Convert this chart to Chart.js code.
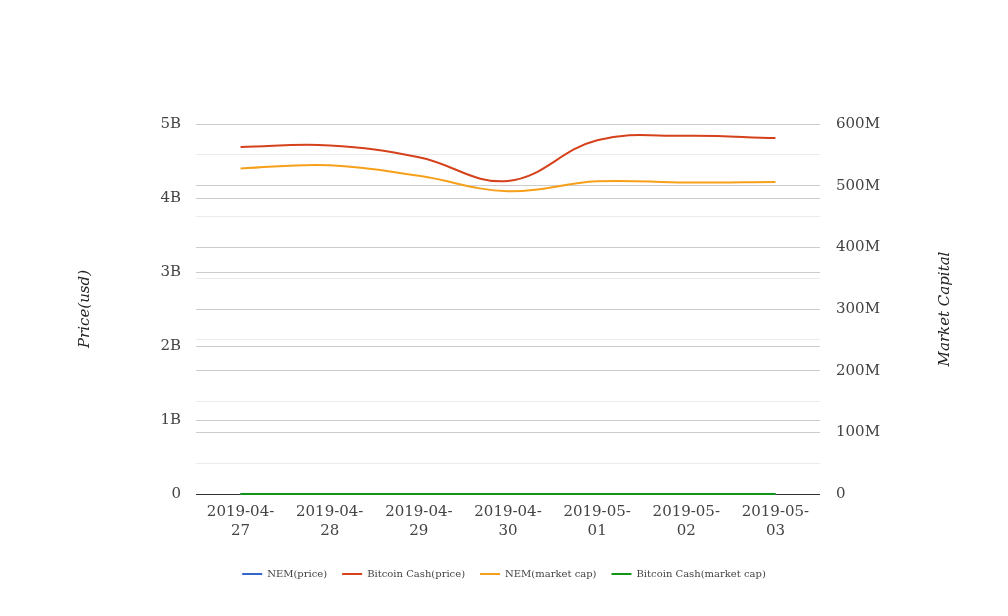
<!DOCTYPE html>
<html>
<head>
<meta charset="utf-8">
<script src="https://cdn.jsdelivr.net/npm/chart.js@4.4.1/dist/chart.umd.min.js"></script>
<style>
  html, body { margin: 0; padding: 0; background: #fff; }
  #wrap { width: 1008px; height: 616px; position: relative; }
</style>
</head>
<body>
<div id="wrap"><canvas id="c"></canvas></div>
<script>
// categories
const dates = [['2019-04-', '27'], ['2019-04-', '28'], ['2019-04-', '29'], ['2019-04-', '30'],
               ['2019-05-', '01'], ['2019-05-', '02'], ['2019-05-', '03']];
// series
const nemPrice = [0.068, 0.069, 0.067, 0.063, 0.065, 0.065, 0.065];
const bchPrice = [4.69e9, 4.71e9, 4.55e9, 4.23e9, 4.78e9, 4.84e9, 4.81e9];
const nemCap   = [528e6, 533e6, 516e6, 491e6, 507e6, 505e6, 506e6];
const bchCap   = [281, 283, 273, 254, 287, 291, 289];
// tick labels
const leftTicks  = {0: '0', 1e9: '1B', 2e9: '2B', 3e9: '3B', 4e9: '4B', 5e9: '5B'};
const rightTicks = {0: '0', 1e8: '100M', 2e8: '200M', 3e8: '300M', 4e8: '400M', 5e8: '500M', 6e8: '600M'};

const FONT = "'DejaVu Serif', serif";

// later series drawn on top, like the original
const mkDs = (label, data, color, axis, order) => ({
  label, data, yAxisID: axis, order,
  borderColor: color, backgroundColor: color,
  borderWidth: 2, pointRadius: 0, pointHoverRadius: 0,
  fill: false, tension: 0.4, clip: 4
});

// right axis title reads bottom-to-top, so draw it ourselves
const rightTitle = {
  id: 'rightTitle',
  afterDraw(chart) {
    const ctx = chart.ctx, a = chart.chartArea;
    ctx.save();
    ctx.translate(945, (a.top + a.bottom) / 2);
    ctx.rotate(-Math.PI / 2);
    ctx.font = 'italic 15px ' + FONT;
    ctx.fillStyle = '#222';
    ctx.textAlign = 'center';
    ctx.textBaseline = 'middle';
    ctx.fillText('Market Capital', 0, 0);
    ctx.restore();
  }
};

new Chart(document.getElementById('c'), {
  type: 'line',
  data: {
    labels: dates,
    datasets: [
      mkDs('NEM(price)', nemPrice, '#3366cc', 'yL', 4),
      mkDs('Bitcoin Cash(price)', bchPrice, '#d5411b', 'yL', 3),
      mkDs('NEM(market cap)', nemCap, '#f6a01a', 'yR', 2),
      mkDs('Bitcoin Cash(market cap)', bchCap, '#109618', 'yR', 1)
    ]
  },
  options: {
    responsive: true, maintainAspectRatio: false, animation: false,
    layout: {padding: {top: 124, bottom: 27, left: 0, right: 0}},
    plugins: {
      tooltip: {enabled: false},
      legend: {
        position: 'bottom',
        labels: {
          font: {family: FONT, size: 10}, color: '#444',
          boxWidth: 20, boxHeight: 2, padding: 15,
          generateLabels(chart) {
            return chart.data.datasets.map((ds, i) => ({
              text: ds.label, fillStyle: ds.borderColor, strokeStyle: ds.borderColor,
              lineWidth: 0, hidden: false, datasetIndex: i, fontColor: '#444'
            }));
          }
        }
      }
    },
    scales: {
      x: {
        offset: true,
        afterFit(s) { s.height += 13; },
        grid: {display: false},
        border: {display: false},
        ticks: {font: {family: FONT, size: 15, lineHeight: 1.3}, color: '#444', padding: 0, maxRotation: 0, autoSkip: false}
      },
      yL: {
        position: 'left', min: 0, max: 5e9,
        afterFit(s) { s.width = 196; },
        border: {display: false},
        grid: {drawTicks: false, color: c => c.tick && c.tick.value === 0 ? '#333' : '#cccccc', lineWidth: 1},
        ticks: {stepSize: 1e9, font: {family: FONT, size: 15}, color: '#444', padding: 15,
                callback: v => leftTicks[v] ?? ''},
        title: {display: true, text: 'Price(usd)', color: '#222',
                font: {family: FONT, size: 15, style: 'italic'}, padding: {top: 76, bottom: 0}}
      },
      yR: {
        position: 'right', min: 0, max: 6e8,
        afterFit(s) { s.width = 188; },
        border: {display: false},
        grid: {drawTicks: false,
               color: c => {
                 const v = c.tick ? c.tick.value : 0;
                 if (v === 0) return 'rgba(0,0,0,0)';
                 return v % 1e8 === 0 ? '#cccccc' : '#ebebeb';
               }},
        ticks: {stepSize: 5e7, font: {family: FONT, size: 15}, color: '#444', padding: 16,
                callback: v => rightTicks[v] ?? ''}
      }
    }
  },
  plugins: [rightTitle]
});
</script>
</body>
</html>
